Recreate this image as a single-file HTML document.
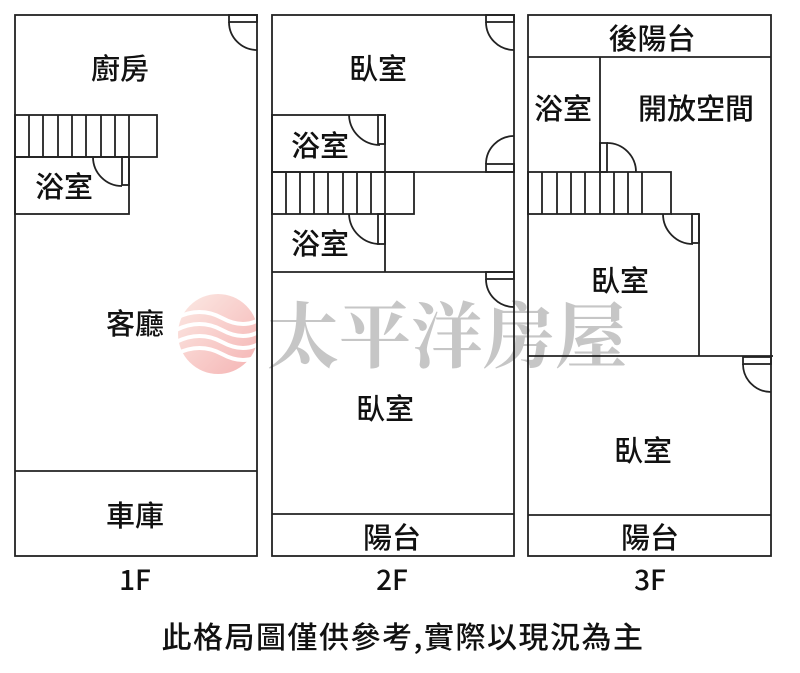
<!DOCTYPE html>
<html><head><meta charset="utf-8"><style>
html,body{margin:0;padding:0;background:#fff;}
svg{display:block;}
text{font-family:"Noto Sans CJK TC","Liberation Sans",sans-serif;fill:#111;font-weight:500;}
</style></head><body>
<svg width="800" height="673" viewBox="0 0 800 673" xmlns="http://www.w3.org/2000/svg">
<defs>
<linearGradient id="lg" x1="0" y1="0" x2="1" y2="1">
<stop offset="0" stop-color="#fbe3dc"/><stop offset="1" stop-color="#f29a9a"/>
</linearGradient>
</defs>
<g opacity="0.75">
<circle cx="218" cy="334" r="40" fill="url(#lg)"/>
<g stroke="#fff" stroke-width="4" fill="none">
<path d="M176 318 Q200 306 222 318 T262 318"/>
<path d="M176 330 Q200 318 222 330 T262 330"/>
<path d="M176 342 Q200 330 222 342 T262 342"/>
<path d="M176 354 Q200 342 222 354 T262 354"/>
</g>
</g>
<text x="447" y="362" text-anchor="middle" style="font-family:'Noto Serif CJK SC','Liberation Serif',serif;font-size:72px;font-weight:bold;fill:#bdbdbd;opacity:0.85">太平洋房屋</text>

<g stroke="#222" stroke-width="1.8" fill="none">
<rect x="15" y="15" width="242" height="541"/>
<line x1="15" y1="471" x2="257" y2="471"/>
<rect x="229" y="15" width="28" height="7"/>
<path d="M229 22 A28 28 0 0 0 257 50"/>
<rect x="15" y="115" width="142" height="42"/>
<path d="M29 115V157M43 115V157M58 115V157M72 115V157M86 115V157M101 115V157M115 115V157M129 115V157"/>
<rect x="15" y="157" width="114" height="57"/>
<rect x="122" y="157" width="7" height="28"/>
<path d="M93 157 A29 29 0 0 0 122 186"/>

<rect x="272" y="15" width="242" height="541"/>
<line x1="272" y1="514" x2="514" y2="514"/>
<rect x="486" y="15" width="28" height="7"/>
<path d="M486 22 A28 28 0 0 0 514 50"/>
<rect x="272" y="115" width="113" height="57"/>
<rect x="378" y="115" width="7" height="29"/>
<path d="M349 115 A31 31 0 0 0 380 145"/>
<line x1="385" y1="172" x2="514" y2="172"/>
<rect x="486" y="164" width="28" height="8"/>
<path d="M486 164 A28 28 0 0 1 514 136"/>
<rect x="272" y="172" width="142" height="42"/>
<path d="M286 172V214M300 172V214M314 172V214M328 172V214M343 172V214M357 172V214M371 172V214M385 172V214"/>
<line x1="385" y1="214" x2="385" y2="272"/>
<rect x="378" y="214" width="7" height="30"/>
<path d="M349 214 A31 31 0 0 0 380 244"/>
<line x1="272" y1="272" x2="514" y2="272"/>
<rect x="486" y="272" width="28" height="7"/>
<path d="M486 279 A28 28 0 0 0 514 307"/>

<rect x="528" y="15" width="243" height="541"/>
<line x1="528" y1="57" x2="771" y2="57"/>
<line x1="600" y1="57" x2="600" y2="172"/>
<rect x="600" y="143" width="7" height="29"/>
<path d="M607 143 A29 29 0 0 1 636 172"/>
<rect x="528" y="172" width="143" height="42"/>
<path d="M542 172V214M557 172V214M571 172V214M585 172V214M600 172V214M614 172V214M628 172V214M642 172V214"/>
<line x1="671" y1="214" x2="699" y2="214"/>
<line x1="699" y1="214" x2="699" y2="356"/>
<rect x="692" y="214" width="7" height="29"/>
<path d="M663 214 A30 30 0 0 0 693 244"/>
<line x1="528" y1="356" x2="773" y2="356"/>
<rect x="743" y="357" width="28" height="7"/>
<path d="M743 364 A28 28 0 0 0 771 392"/>
<line x1="528" y1="515" x2="771" y2="515"/>
</g>

<g font-size="29" text-anchor="middle">
<text x="120" y="79">廚房</text>
<text x="64" y="197">浴室</text>
<text x="135" y="334">客廳</text>
<text x="135" y="526">車庫</text>
<text x="378" y="79">臥室</text>
<text x="320" y="156">浴室</text>
<text x="320" y="254">浴室</text>
<text x="385" y="419">臥室</text>
<text x="392" y="548">陽台</text>
<text x="652" y="49">後陽台</text>
<text x="563" y="119">浴室</text>
<text x="696" y="119">開放空間</text>
<text x="620" y="291">臥室</text>
<text x="643" y="461">臥室</text>
<text x="650" y="548">陽台</text>
<text x="135" y="590" font-size="28">1F</text>
<text x="392" y="590" font-size="28">2F</text>
<text x="650" y="590" font-size="28">3F</text>
<text x="403" y="648" font-size="30" letter-spacing="1.5">此格局圖僅供參考,實際以現況為主</text>
</g>
</svg>
</body></html>
